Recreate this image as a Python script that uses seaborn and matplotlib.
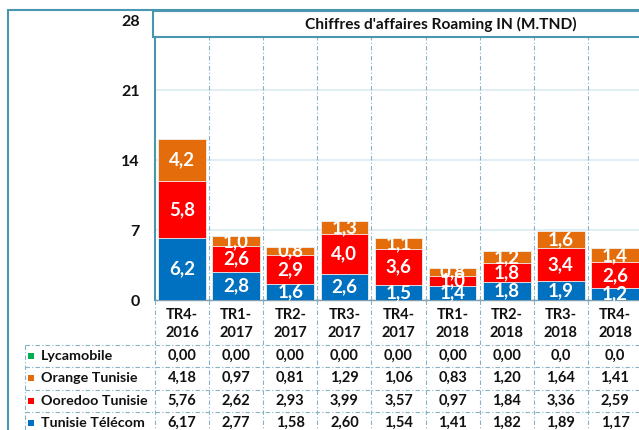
import matplotlib
matplotlib.use("Agg")
import matplotlib.pyplot as plt
import matplotlib.transforms as mtransforms
from matplotlib.lines import Line2D
from matplotlib.patches import Rectangle
import seaborn as sns
import pandas as pd

# data (M.TND)
periods = ["TR4-2016", "TR1-2017", "TR2-2017", "TR3-2017", "TR4-2017",
           "TR1-2018", "TR2-2018", "TR3-2018", "TR4-2018"]
tunisie_telecom = [6.17, 2.77, 1.58, 2.60, 1.54, 1.41, 1.82, 1.89, 1.17]
ooredoo = [5.76, 2.62, 2.93, 3.99, 3.57, 0.97, 1.84, 3.36, 2.59]
orange = [4.18, 0.97, 0.81, 1.29, 1.06, 0.83, 1.20, 1.64, 1.41]
lycamobile = [0.00, 0.00, 0.00, 0.00, 0.00, 0.00, 0.00, 0.0, 0.0]
lyca_decimals = [2, 2, 2, 2, 2, 2, 2, 1, 1]
yticks = [0, 7, 14, 21, 28]
title = "Chiffres d'affaires Roaming IN (M.TND)"

operators = ["Lycamobile", "Orange Tunisie", "Ooredoo Tunisie", "Tunisie Télécom"]
colors = {"Lycamobile": "#00B050", "Orange Tunisie": "#E46C0A",
          "Ooredoo Tunisie": "#FF0000", "Tunisie Télécom": "#0070C0"}
frame_col = "#4A96AE"
grid_col = "#DCECF3"
dash_col = "#86B2C6"
text_col = "#111111"

df = pd.DataFrame({"period": periods,
                   "Tunisie Télécom": tunisie_telecom,
                   "Ooredoo Tunisie": ooredoo,
                   "Orange Tunisie": orange,
                   "Lycamobile": lycamobile})

sns.set_style("white")
plt.rcParams["font.family"] = ["Lato", "DejaVu Sans"]
plt.rcParams["font.weight"] = "bold"

W, H = 639, 430
fig = plt.figure(figsize=(W / 100, H / 100), dpi=100)


def fx(px):
    return px / W


def fy(py):
    return 1 - py / H


# plot area: x 155..642 px, y 20 (=28) .. 300 (=0)
ax = fig.add_axes([fx(155), fy(300), fx(642) - fx(155), fy(20) - fy(300)])

# stacked bars: draw cumulative totals from the top layer down
stack_order = ["Tunisie Télécom", "Ooredoo Tunisie", "Orange Tunisie", "Lycamobile"]
cum = df[stack_order].cumsum(axis=1)
for op in reversed(stack_order):
    sns.barplot(x=df["period"], y=cum[op], color=colors[op], saturation=1,
                width=0.88, edgecolor="#F2F2F2", linewidth=0.6, ax=ax, zorder=3)

# segment labels
for i in range(len(periods)):
    bottom = 0
    for op in stack_order:
        val = df[op][i]
        if val > 0:
            ax.text(i, bottom + val / 2, f"{val:.1f}".replace(".", ","),
                    ha="center", va="center", color="white", fontsize=13.5,
                    fontweight="bold", zorder=5)
        bottom += val

ax.set_ylim(0, 28)
ax.set_xlim(-0.5, len(periods) - 0.5)
ax.set_yticks(yticks)
ax.set_yticklabels([str(t) for t in yticks], fontsize=11.5, fontweight="bold",
                   color=text_col)
ax.tick_params(axis="y", length=0, pad=11)
ax.set_xticks([])
ax.set_xlabel("")
ax.set_ylabel("")
ax.yaxis.grid(True, color=grid_col, linewidth=1.2, zorder=0)
ax.set_axisbelow(True)
for i in range(1, len(periods)):
    ax.axvline(i - 0.5, color=dash_col, linestyle=(0, (4, 2, 1, 2)),
               linewidth=0.8, zorder=1)
for s in ["top", "right"]:
    ax.spines[s].set_visible(False)
ax.spines["left"].set_color(frame_col)
ax.spines["left"].set_linewidth(1.5)
ax.spines["bottom"].set_color("#7F9FAE")
ax.spines["bottom"].set_linewidth(1.0)

# outer frame and title box
fig.add_artist(Rectangle((fx(8), fy(700)), fx(900), fy(10) - fy(700),
                         transform=fig.transFigure, fill=False,
                         edgecolor=frame_col, linewidth=1.5, zorder=6))
fig.add_artist(Rectangle((fx(153), fy(37)), fx(800), fy(11) - fy(37),
                         transform=fig.transFigure, facecolor="white",
                         edgecolor=frame_col, linewidth=1.5, zorder=6))
fig.text(fx(441), fy(24), title, ha="center", va="center", fontsize=11.2,
         fontweight="bold", color=text_col, zorder=7)

# data table under the chart
blend = mtransforms.blended_transform_factory(ax.transData, fig.transFigure)
for i, p in enumerate(periods):
    q, yr = p.split("-")
    ax.text(i, fy(315), q + "-", transform=blend, ha="center", va="center",
            fontsize=10.5, fontweight="bold", color=text_col)
    ax.text(i, fy(333), yr, transform=blend, ha="center", va="center",
            fontsize=10.5, fontweight="bold", color=text_col)

row_y = [356, 378, 401, 423]
row_vals = {"Lycamobile": [f"{v:.{d}f}" for v, d in zip(lycamobile, lyca_decimals)],
            "Orange Tunisie": [f"{v:.2f}" for v in orange],
            "Ooredoo Tunisie": [f"{v:.2f}" for v in ooredoo],
            "Tunisie Télécom": [f"{v:.2f}" for v in tunisie_telecom]}
for op, y in zip(operators, row_y):
    fig.add_artist(Rectangle((fx(28), fy(y + 3)), fx(6), fy(y - 3) - fy(y + 3),
                             transform=fig.transFigure, facecolor=colors[op],
                             edgecolor="none"))
    fig.text(fx(41), fy(y), op, ha="left", va="center", fontsize=10.3,
             fontweight="bold", color=text_col)
    for i, s in enumerate(row_vals[op]):
        ax.text(i, fy(y), s.replace(".", ","), transform=blend, ha="center",
                va="center", fontsize=10.5, fontweight="bold", color=text_col)

# table grid lines
tbl_style = dict(color=dash_col, linestyle=(0, (4, 2, 1, 2)), linewidth=0.8)
for y in [345, 367, 390, 412, 434]:
    fig.add_artist(Line2D([fx(25), fx(700)], [fy(y), fy(y)],
                          transform=fig.transFigure, **tbl_style))
fig.add_artist(Line2D([fx(25), fx(25)], [fy(345), fy(460)],
                      transform=fig.transFigure, **tbl_style))
for i in range(len(periods)):
    fig.add_artist(Line2D([i - 0.5, i - 0.5], [fy(300), fy(460)],
                          transform=blend, **tbl_style))

fig.savefig("out.png", dpi=100)
